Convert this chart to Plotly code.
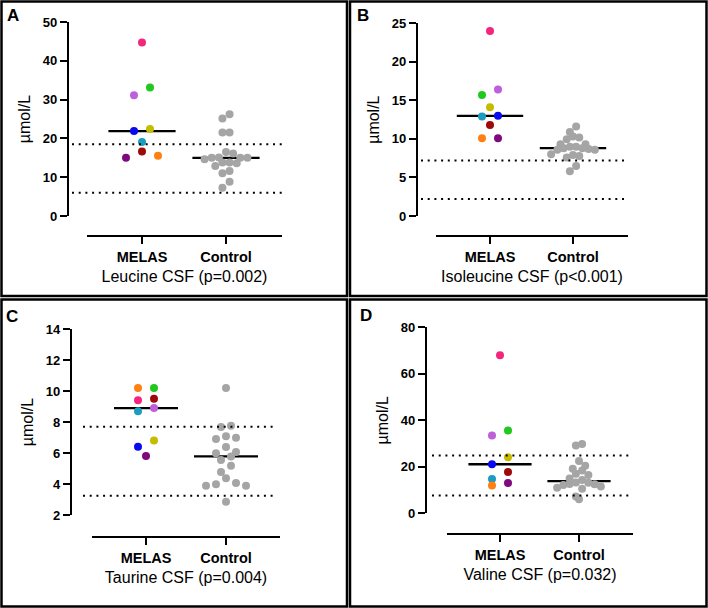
import numpy as np
import plotly.graph_objects as go

W, H = 708, 608
FONT = "Arial, 'Liberation Sans', sans-serif"

GROUPS = ["MELAS", "Control"]
Y_TITLE = "µmol/L"

# one colour per MELAS patient, same order in every panel
MELAS_COLORS = ["#F2267C", "#21C81E", "#BE5FDC", "#0A0AF0", "#C3BC00",
                "#1C9DBF", "#9E0A0A", "#7F0A7F", "#FF8012"]
CONTROL_COLOR = "#A5A5A5"

LEU_MELAS = [44.7, 33.1, 31.1, 21.9, 22.4, 19.1, 16.6, 15.0, 15.5]
LEU_CONTROL = [26.2, 25.1, 21.5, 21.5, 16.5, 16.1, 15.1, 15.0, 15.0, 15.0,
               14.6, 13.8, 13.8, 13.6, 12.9, 11.6, 11.0, 8.8, 7.3]
LEU_REF = [6.0, 18.5]

ILE_MELAS = [24.0, 15.7, 16.4, 13.0, 14.1, 12.9, 11.8, 10.1, 10.1]
ILE_CONTROL = [11.6, 10.9, 10.3, 10.2, 9.95, 9.3, 9.3, 9.0, 9.0, 8.8,
               8.8, 8.7, 8.6, 8.6, 8.0, 7.9, 7.8, 7.6, 6.5, 5.8]
ILE_REF = [2.2, 7.2]

TAU_MELAS = [9.4, 10.2, 8.9, 6.4, 6.8, 8.7, 9.5, 5.8, 10.2]
TAU_CONTROL = [10.2, 7.76, 7.68, 7.08, 6.99, 6.9, 6.39, 6.06, 5.98, 5.78,
               5.55, 5.18, 4.77, 4.37, 4.06, 3.98, 3.89, 3.89, 2.86]
TAU_REF = [3.25, 7.7]

VAL_MELAS = [68.0, 35.6, 33.5, 21.1, 24.1, 14.8, 17.8, 13.0, 12.0]
VAL_CONTROL = [29.8, 29.2, 22.5, 20.4, 19.2, 18.4, 17.0, 16.5, 15.0, 14.3,
               13.3, 13.1, 12.6, 12.5, 12.2, 11.5, 11.0, 10.6, 7.2, 6.0]
VAL_REF = [7.7, 24.9]

# geometry in pixels of the 708x608 page
PANELS = [
    dict(letter="A", title="Leucine CSF (p=0.002)", melas=LEU_MELAS, control=LEU_CONTROL,
         ref=LEU_REF, yrange=[0, 50], dtick=10,
         yx=68, y0=216, y1=22, xy=236, xline=(87, 282), cats=(142, 226), dots=(72, 283),
         lab=(13, 15), box=(1.5, 1.5, 347, 296)),
    dict(letter="B", title="Isoleucine CSF (p<0.001)", melas=ILE_MELAS, control=ILE_CONTROL,
         ref=ILE_REF, yrange=[0, 25], dtick=5,
         yx=417, y0=216, y1=23.3, xy=236, xline=(436, 628), cats=(490, 573), dots=(421, 628),
         lab=(363, 15), box=(350, 1.5, 706.5, 296)),
    dict(letter="C", title="Taurine CSF (p=0.004)", melas=TAU_MELAS, control=TAU_CONTROL,
         ref=TAU_REF, yrange=[2, 14], dtick=2,
         yx=71, y0=515, y1=329, xy=537, xline=(92, 280), cats=(146, 226), dots=(83, 277),
         lab=(12, 316), box=(1.5, 299.5, 347, 606.5)),
    dict(letter="D", title="Valine CSF (p=0.032)", melas=VAL_MELAS, control=VAL_CONTROL,
         ref=VAL_REF, yrange=[0, 80], dtick=20,
         yx=426, y0=513.3, y1=327.3, xy=534, xline=(447, 633), cats=(500, 579), dots=(432, 632),
         lab=(366, 315), box=(350, 299.5, 706.5, 606.5)),
]


def swarm(values, px_per_unit, row_px=8, max_width=50, max_step=16):
    """Prism-like column scatter: group close values in rows, spread each row."""
    values = np.asarray(values, dtype=float)
    order = np.argsort(-values, kind="stable")
    rows, cur, top = [], [], None
    for i in order:
        if cur and (top - values[i]) * px_per_unit >= row_px:
            rows.append(cur)
            cur = []
        if not cur:
            top = values[i]
        cur.append(i)
    rows.append(cur)
    step = min(max_step, max_width / max(len(r) for r in rows))
    off = np.zeros(len(values))
    for r in rows:
        n = len(r)
        slots = sorted(((k - (n - 1) / 2) * step for k in range(n)), key=lambda s: (abs(s), -s))
        for i, s in zip(r, slots):
            off[i] = s
    return off


fig = go.Figure()
shapes, annotations = [], []
axis_font = dict(family=FONT, color="black")

for n, p in enumerate(PANELS, start=1):
    sfx = "" if n == 1 else str(n)
    unit = p["cats"][1] - p["cats"][0]
    y_ppu = (p["y0"] - p["y1"]) / (p["yrange"][1] - p["yrange"][0])

    for g, (vals, colors) in enumerate([(p["melas"], MELAS_COLORS),
                                        (p["control"], [CONTROL_COLOR] * len(p["control"]))]):
        med = float(np.median(vals))
        fig.add_trace(go.Scatter(
            x=[g - 0.4, g + 0.4], y=[med, med], mode="lines",
            line=dict(color="black", width=2.3),
            xaxis="x" + sfx, yaxis="y" + sfx, hoverinfo="skip",
        ))
        off = swarm(vals, y_ppu)
        fig.add_trace(go.Scatter(
            x=g + off / unit, y=vals, mode="markers",
            marker=dict(color=colors, size=8, line=dict(width=0)),
            name=GROUPS[g], xaxis="x" + sfx, yaxis="y" + sfx,
        ))

    x0, x1 = p["xline"]
    c0 = p["cats"][0]
    fig.update_layout(**{
        "xaxis" + sfx: dict(
            domain=[x0 / W, x1 / W], range=[(x0 - c0) / unit, (x1 - c0) / unit],
            anchor="free", position=1 - p["xy"] / H, automargin=False,
            showline=True, linewidth=2.2, linecolor="black", mirror=False,
            ticks="outside", ticklen=7, tickwidth=2.2, tickcolor="black",
            tickvals=[0, 1], ticktext=GROUPS,
            tickfont=dict(**axis_font, size=14.5, weight="bold"),
            title=dict(text=p["title"], font=dict(**axis_font, size=16), standoff=6),
            showgrid=False, zeroline=False, fixedrange=True,
        ),
        "yaxis" + sfx: dict(
            domain=[1 - p["y0"] / H, 1 - p["y1"] / H], range=p["yrange"],
            anchor="free", position=p["yx"] / W, automargin=False,
            showline=True, linewidth=2.2, linecolor="black",
            ticks="outside", ticklen=7, tickwidth=2.2, tickcolor="black",
            dtick=p["dtick"], tick0=p["yrange"][0],
            tickfont=dict(**axis_font, size=13, weight="bold"),
            title=dict(text=Y_TITLE, font=dict(**axis_font, size=16), standoff=7),
            showgrid=False, zeroline=False, fixedrange=True,
        ),
    })

    for r in p["ref"]:
        shapes.append(dict(
            type="line", xref="paper", yref="y" + sfx,
            x0=p["dots"][0] / W, x1=p["dots"][1] / W, y0=r, y1=r,
            line=dict(color="black", width=2, dash="2px,4.7px"),
        ))

    bx0, by0, bx1, by1 = p["box"]
    shapes.append(dict(
        type="rect", xref="paper", yref="paper",
        x0=bx0 / W, x1=bx1 / W, y0=1 - by0 / H, y1=1 - by1 / H,
        line=dict(color="black", width=2.5),
    ))
    annotations.append(dict(
        text=p["letter"], xref="paper", yref="paper",
        x=p["lab"][0] / W, y=1 - p["lab"][1] / H, xanchor="center", yanchor="middle",
        showarrow=False, font=dict(**axis_font, size=17, weight="bold"),
    ))

fig.update_layout(
    width=W, height=H, autosize=False,
    margin=dict(l=0, r=0, t=0, b=0, pad=0),
    plot_bgcolor="white", paper_bgcolor="white",
    showlegend=False,
    shapes=shapes, annotations=annotations,
    font=dict(family=FONT, color="black"),
)

# let the 708x608 figure fill the window exactly (no default body margin)
fig.write_html("out.html", config={"displayModeBar": False},
               post_script="document.body.style.margin='0';")
